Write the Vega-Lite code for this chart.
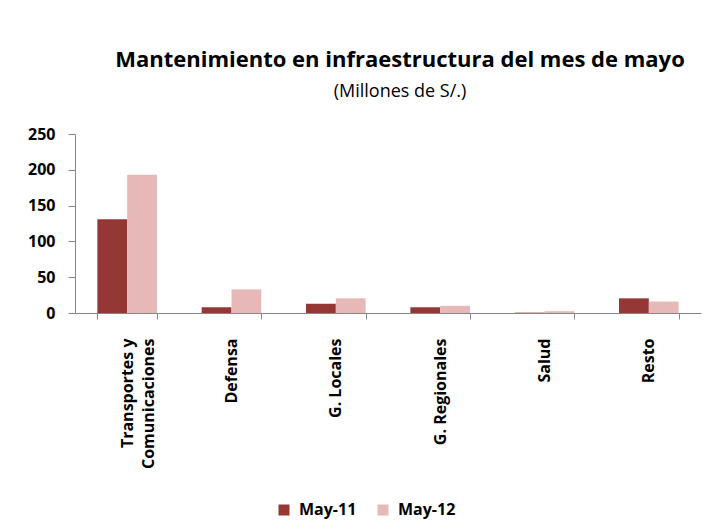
{
  "$schema": "https://vega.github.io/schema/vega-lite/v6.json",
  "autosize": {"type": "none"},
  "padding": {"left": 75, "top": 134, "right": 6, "bottom": 216},
  "width": 626,
  "height": 179,
  "background": "white",
  "title": {
    "text": "Mantenimiento en infraestructura del mes de mayo",
    "subtitle": "(Millones de S/.)",
    "anchor": "middle",
    "dx": 12,
    "offset": 24,
    "font": "Open Sans",
    "fontSize": 22,
    "fontWeight": "bold",
    "color": "black",
    "subtitleFont": "Open Sans",
    "subtitleFontSize": 18,
    "subtitleColor": "black",
    "subtitlePadding": 11
  },
  "data": {
    "values": [
      {"sector": "Transportes y Comunicaciones", "periodo": "May-11", "valor": 131},
      {"sector": "Transportes y Comunicaciones", "periodo": "May-12", "valor": 193},
      {"sector": "Defensa", "periodo": "May-11", "valor": 8},
      {"sector": "Defensa", "periodo": "May-12", "valor": 33},
      {"sector": "G. Locales", "periodo": "May-11", "valor": 13},
      {"sector": "G. Locales", "periodo": "May-12", "valor": 20.5},
      {"sector": "G. Regionales", "periodo": "May-11", "valor": 8},
      {"sector": "G. Regionales", "periodo": "May-12", "valor": 10},
      {"sector": "Salud", "periodo": "May-11", "valor": 0.5},
      {"sector": "Salud", "periodo": "May-12", "valor": 2.5},
      {"sector": "Resto", "periodo": "May-11", "valor": 20.5},
      {"sector": "Resto", "periodo": "May-12", "valor": 16}
    ]
  },
  "mark": {"type": "bar"},
  "encoding": {
    "x": {
      "field": "sector",
      "type": "nominal",
      "sort": null,
      "title": null,
      "scale": {"paddingInner": 0.4286, "paddingOuter": 0.2143},
      "axis": {
        "tickBand": "extent",
        "labelAngle": -90,
        "labelAlign": "right",
        "labelBaseline": "middle",
        "labelFont": "Open Sans",
        "labelFontSize": 16,
        "labelFontWeight": "bold",
        "labelColor": "black",
        "labelPadding": 19,
        "labelLineHeight": 21,
        "labelExpr": "datum.value == 'Transportes y Comunicaciones' ? ['Transportes y', 'Comunicaciones'] : datum.value",
        "tickSize": 6,
        "tickColor": "#868686",
        "domainColor": "#868686",
        "labelLimit": 300
      }
    },
    "xOffset": {"field": "periodo", "type": "nominal", "sort": ["May-11", "May-12"]},
    "y": {
      "field": "valor",
      "type": "quantitative",
      "title": null,
      "scale": {"domain": [0, 250], "nice": false},
      "axis": {
        "values": [0, 50, 100, 150, 200, 250],
        "grid": false,
        "labelFont": "Open Sans",
        "labelFontSize": 16,
        "labelFontWeight": "bold",
        "labelColor": "black",
        "labelPadding": 13,
        "tickSize": 7,
        "tickColor": "#868686",
        "domainColor": "#868686"
      }
    },
    "color": {
      "field": "periodo",
      "type": "nominal",
      "scale": {"domain": ["May-11", "May-12"], "range": ["#953735", "#E6B9B8"]},
      "legend": {
        "title": null,
        "orient": "none",
        "legendX": 201,
        "legendY": 368,
        "direction": "horizontal",
        "symbolType": "square",
        "symbolSize": 121,
        "symbolStrokeWidth": 0,
        "symbolOpacity": 1,
        "labelFont": "Open Sans",
        "labelFontSize": 16,
        "labelFontWeight": "bold",
        "labelColor": "black",
        "labelOffset": 7,
        "columnPadding": 18
      }
    }
  },
  "config": {"view": {"stroke": null}}
}
